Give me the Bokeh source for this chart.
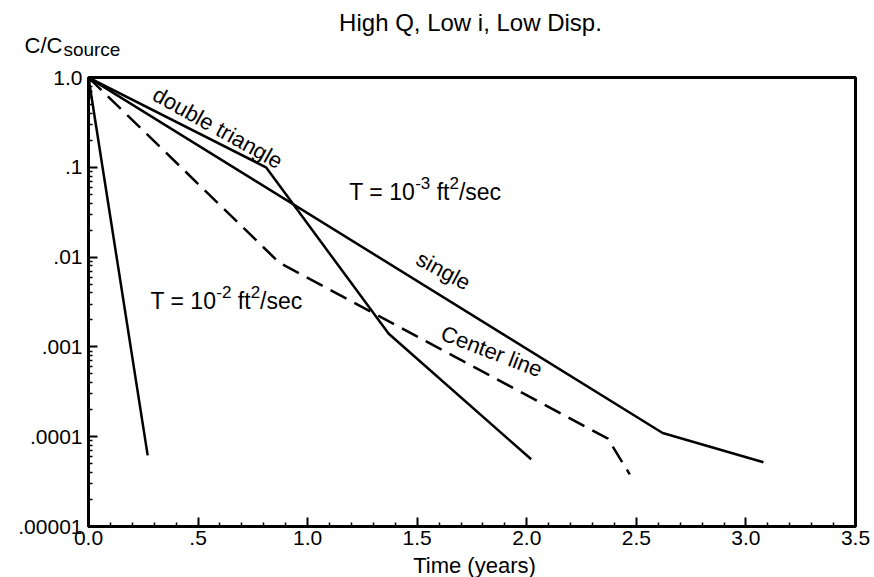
import math
from bokeh.plotting import figure
from bokeh.layouts import column
from bokeh.models import Label, FixedTicker, Range1d
from bokeh.embed import file_html
from bokeh.resources import INLINE

# ---------------- data ----------------
steep_time = [0.0, 0.27]
steep_conc = [1.0, 6.2e-5]

double_time = [0.0, 0.81, 1.37, 2.02]
double_conc = [1.0, 0.1, 0.0014, 5.6e-5]

single_time = [0.0, 2.62, 3.08]
single_conc = [1.0, 1.1e-4, 5.2e-5]

center_time = [0.0, 0.87, 2.37, 2.47]
center_conc = [1.0, 0.0087, 9.5e-5, 3.8e-5]

x_ticks = [0.0, 0.5, 1.0, 1.5, 2.0, 2.5, 3.0, 3.5]
x_tick_labels = ["0.0", ".5", "1.0", "1.5", "2.0", "2.5", "3.0", "3.5"]
y_ticks = [1e-5, 1e-4, 1e-3, 1e-2, 1e-1, 1.0]
y_tick_labels = [".00001", ".0001", ".001", ".01", ".1", "1.0"]

title_text = "High Q, Low i, Low Disp."
x_title = "Time (years)"

FONT = "Liberation Sans"
WIDTH = 874
HEAD_H, MAIN_H, FOOT_H = 62, 492, 23

W = {"T": .611, " ": .278, "=": .584, "1": .556, "0": .556, "-": .333, "3": .556,
     "2": .556, "f": .278, "t": .278, "/": .278, "s": .5, "e": .556, "c": .5,
     "C": .722, "o": .556, "u": .556, "r": .333}

def tw(s, size):
    return sum(W[c] for c in s) * size

def lab(fig, x, y, text, size, **kw):
    fig.add_layout(Label(x=x, y=y, text=text, text_font=FONT, text_font_size=f"{size}px",
                         text_color="black", **kw))

def blank(height):
    f = figure(width=WIDTH, height=height, output_backend="svg", toolbar_location=None,
               x_range=Range1d(0, WIDTH), y_range=Range1d(height, 0),
               x_axis_location=None, y_axis_location=None,
               min_border_left=0, min_border_right=0, min_border_top=0, min_border_bottom=0)
    try:
        f.frame_align = False
    except Exception:
        pass
    f.outline_line_color = None
    f.background_fill_color = "white"
    f.border_fill_color = "white"
    f.xgrid.visible = False
    f.ygrid.visible = False
    return f

# ---------------- header: title and y-axis title ----------------
head = blank(HEAD_H)
lab(head, 470, 22, title_text, 24, text_align="center", text_baseline="middle")
lab(head, 24, 45, "C/C", 22, text_align="left", text_baseline="alphabetic")
lab(head, 24 + tw("C/C", 22) + 1, 49, "source", 19, text_align="left", text_baseline="alphabetic")

# ---------------- main plot ----------------
p = figure(width=WIDTH, height=MAIN_H, output_backend="svg", toolbar_location=None,
           x_range=Range1d(0, 3.5), y_range=Range1d(1e-5, 1.0), y_axis_type="log",
           min_border_left=88, min_border_right=19, min_border_top=15, min_border_bottom=28)
p.background_fill_color = "white"
p.border_fill_color = "white"
p.outline_line_color = "black"
p.outline_line_width = 3
p.xgrid.visible = False
p.ygrid.visible = False

x_minor = [round(i * 0.1, 1) for i in range(36) if i % 5 != 0]
p.xaxis.ticker = FixedTicker(ticks=x_ticks, minor_ticks=x_minor)
p.xaxis.major_label_overrides = {t: l for t, l in zip(x_ticks, x_tick_labels)}
y_minor = [k * 10.0 ** e for e in range(-5, 0) for k in range(2, 10)]
p.yaxis.ticker = FixedTicker(ticks=y_ticks, minor_ticks=y_minor)
p.yaxis.major_label_overrides = {t: l for t, l in zip(y_ticks, y_tick_labels)}

for ax in (p.xaxis[0], p.yaxis[0]):
    ax.axis_line_width = 3
    ax.axis_line_color = "black"
    ax.major_tick_in = 9
    ax.major_tick_out = 0
    ax.minor_tick_in = 4
    ax.minor_tick_out = 0
    ax.major_tick_line_width = 2
    ax.minor_tick_line_width = 1.5
    ax.major_tick_line_color = "black"
    ax.minor_tick_line_color = "black"
    ax.major_label_text_font = FONT
    ax.major_label_text_font_size = "21px"
    ax.major_label_text_color = "black"
p.xaxis.major_label_standoff = 4
p.yaxis.major_label_standoff = 6

p.line(steep_time, steep_conc, line_color="black", line_width=2.5)
p.line(double_time, double_conc, line_color="black", line_width=2.5)
p.line(single_time, single_conc, line_color="black", line_width=2.5)
p.line(center_time, center_conc, line_color="black", line_width=2.5, line_dash="18 9")

# T labels with superscripts (anchor in data coords, pieces offset in pixels)
def t_label(x, y, exp, size=23, sup=17):
    segs = [("T = 10", size, 0), (exp, sup, 9), (" ft", size, 0), ("2", sup, 9), ("/sec", size, 0)]
    off = 0.0
    for s, sz, up in segs:
        shown = s.lstrip(" ")
        lead = tw(s[:len(s) - len(shown)], sz)
        lab(p, x, y, shown, sz, text_align="left", text_baseline="alphabetic",
            x_offset=off + lead, y_offset=up)
        off += tw(s, sz)

t_label(1.19, 10 ** -1.275, "-3")
t_label(0.283, 10 ** -2.487, "-2")

lab(p, 0.59, 10 ** -0.56, "double triangle", 22, text_align="center", text_baseline="middle",
    angle=-math.radians(29))
lab(p, 1.62, 10 ** -2.15, "single", 22, text_align="center", text_baseline="middle",
    angle=-math.radians(28))
lab(p, 1.84, 10 ** -3.05, "Center line", 22, text_align="center", text_baseline="middle",
    angle=-math.radians(21))

# ---------------- footer: x-axis title ----------------
foot = blank(FOOT_H)
lab(foot, 474, 11, x_title, 22, text_align="center", text_baseline="middle")

layout = column(head, p, foot, spacing=0)
open("out.html", "w").write(file_html(layout, INLINE))
